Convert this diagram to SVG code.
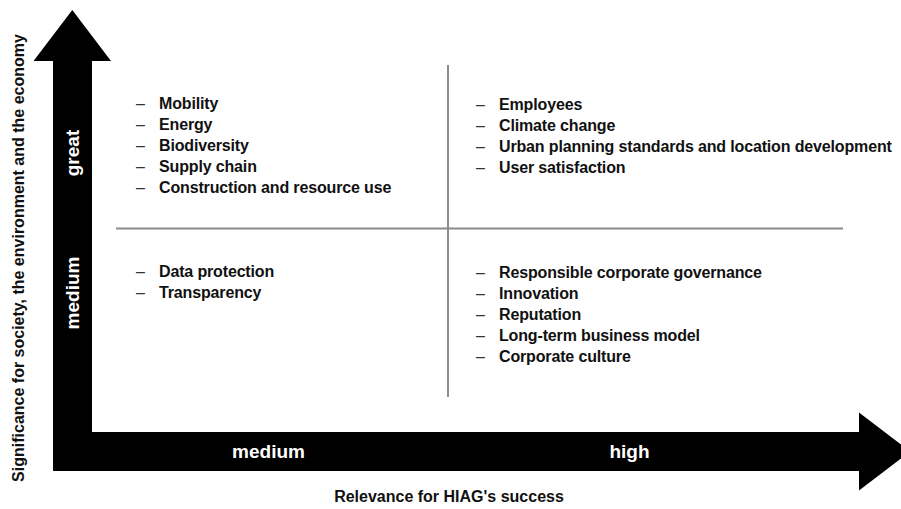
<svg xmlns="http://www.w3.org/2000/svg" width="901" height="509" viewBox="0 0 901 509">
  <style>
    .item { font-family: "Liberation Sans", Arial, sans-serif; font-size: 16px; font-weight: bold; fill: #111; letter-spacing: -0.15px; }
    .dash { font-family: "Liberation Sans", Arial, sans-serif; font-size: 16px; font-weight: normal; fill: #333; }
    .axis-label { font-family: "Liberation Sans", Arial, sans-serif; font-size: 19px; font-weight: bold; fill: #fff; }
    .axis-title { font-family: "Liberation Sans", Arial, sans-serif; font-size: 16px; font-weight: bold; fill: #111; }
    .divider { stroke: #8c8c8c; stroke-width: 2; fill: none; }
  </style>

  <!-- axes: one L-shaped double arrow -->
  <g id="connectors">
    <polygon id="axes" fill="#000"
      points="72.3,10 111,61 92,61 92,432 859,432 859,412.5 910,451.5 859,490.5 859,471 53,471 53,61 33.5,61"/>
    <line class="divider" x1="448" y1="65" x2="448" y2="397"/>
    <line class="divider" x1="116" y1="228.5" x2="843" y2="228.5"/>
  </g>

  <!-- axis scale labels -->
  <g id="y-scale">
    <text class="axis-label" transform="translate(79,153) rotate(-90)" text-anchor="middle">great</text>
    <text class="axis-label" transform="translate(79,293) rotate(-90)" text-anchor="middle">medium</text>
  </g>
  <g id="x-scale">
    <text class="axis-label" x="268.5" y="458" text-anchor="middle">medium</text>
    <text class="axis-label" x="629.5" y="458" text-anchor="middle">high</text>
  </g>

  <!-- axis titles -->
  <g id="y-title">
    <text class="axis-title" transform="translate(24,258) rotate(-90)" text-anchor="middle">Significance for society, the environment and the economy</text>
  </g>
  <g id="x-title">
    <text class="axis-title" x="449" y="502" text-anchor="middle">Relevance for HIAG's success</text>
  </g>

  <!-- quadrant: great significance, medium relevance -->
  <g id="quadrant-top-left">
    <text class="dash" x="136" y="109">–</text><text class="item" x="159" y="109">Mobility</text>
    <text class="dash" x="136" y="130">–</text><text class="item" x="159" y="130">Energy</text>
    <text class="dash" x="136" y="151">–</text><text class="item" x="159" y="151">Biodiversity</text>
    <text class="dash" x="136" y="172">–</text><text class="item" x="159" y="172">Supply chain</text>
    <text class="dash" x="136" y="193">–</text><text class="item" x="159" y="193">Construction and resource use</text>
  </g>

  <!-- quadrant: great significance, high relevance -->
  <g id="quadrant-top-right">
    <text class="dash" x="476" y="110">–</text><text class="item" x="499" y="110">Employees</text>
    <text class="dash" x="476" y="131">–</text><text class="item" x="499" y="131">Climate change</text>
    <text class="dash" x="476" y="152">–</text><text class="item" x="499" y="152">Urban planning standards and location development</text>
    <text class="dash" x="476" y="173">–</text><text class="item" x="499" y="173">User satisfaction</text>
  </g>

  <!-- quadrant: medium significance, medium relevance -->
  <g id="quadrant-bottom-left">
    <text class="dash" x="136" y="277">–</text><text class="item" x="159" y="277">Data protection</text>
    <text class="dash" x="136" y="298">–</text><text class="item" x="159" y="298">Transparency</text>
  </g>

  <!-- quadrant: medium significance, high relevance -->
  <g id="quadrant-bottom-right">
    <text class="dash" x="476" y="278">–</text><text class="item" x="499" y="278">Responsible corporate governance</text>
    <text class="dash" x="476" y="299">–</text><text class="item" x="499" y="299">Innovation</text>
    <text class="dash" x="476" y="320">–</text><text class="item" x="499" y="320">Reputation</text>
    <text class="dash" x="476" y="341">–</text><text class="item" x="499" y="341">Long-term business model</text>
    <text class="dash" x="476" y="362">–</text><text class="item" x="499" y="362">Corporate culture</text>
  </g>
</svg>
